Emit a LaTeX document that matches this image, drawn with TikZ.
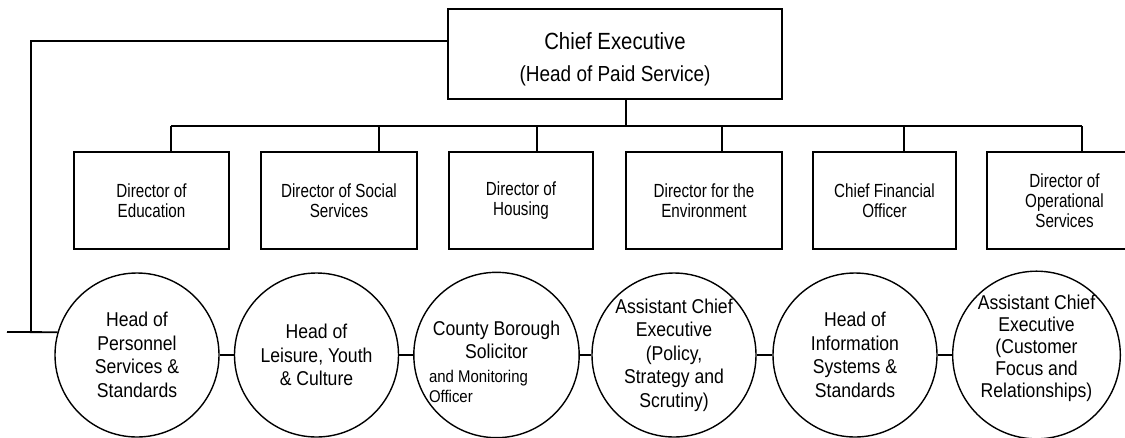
\documentclass[tikz,border=0pt]{standalone}
\usepackage{fontspec}
\setmainfont{Liberation Sans}
\newfontfamily\narrowfont[FakeStretch=0.8]{Liberation Sans}
\newfontfamily\headfont[FakeStretch=0.88]{Liberation Sans}
\newfontfamily\cefont[FakeStretch=0.87]{Liberation Sans}
\usepackage{tikz}

\begin{document}
\begin{tikzpicture}[x=1pt,y=-1pt]
    \newcommand\dropline[2]{\coordinate (b#1) at (#2,126); \draw[wire] (b#1) -- (d#1.north -| b#1);}
    \tikzstyle{wire}=[line width=1.8pt]
    \tikzstyle{chief}=[rectangle,draw,line width=1.8pt,inner sep=0pt,align=center,
                       minimum width=334pt,minimum height=90pt,
                       font={\cefont\fontsize{23.4}{32}\selectfont}]
    \tikzstyle{dir}=[rectangle,draw,line width=1.8pt,inner sep=0pt,align=center,
                     minimum height=97pt,font={\narrowfont\fontsize{19}{20}\selectfont}]
    \tikzstyle{head}=[circle,draw,line width=1.4pt,inner sep=0pt,align=center,
                      minimum size=164pt,font={\headfont\fontsize{20}{23.5}\selectfont}]
    \path[use as bounding box] (0,0) rectangle (1125,437);
    \clip (0,0) rectangle (1125,437);
    \node[chief] at (615,54) (ce) {\rule{0pt}{27pt}Chief Executive\\{\fontsize{21.8}{32}\selectfont (Head of Paid Service)}};
    % directors
    \node[dir,minimum width=155pt] at (151.5,200.5) (d1) {Director of\\Education};
    \node[dir,minimum width=156pt] at (339,200.5)   (d2) {Director of Social\\Services};
    \node[dir,minimum width=144pt] at (521,200.5)   (d3) {Director of\\Housing};
    \node[dir,minimum width=156pt] at (704,200.5)   (d4) {Director for the\\Environment};
    \node[dir,minimum width=143pt] at (884.5,200.5) (d5) {Chief Financial\\Officer};
    \node[dir,minimum width=155pt] at (1064.5,200.5) (d6) {Director of\\Operational\\Services};
    % heads
    \node[head] at (137,355)    (h1) {Head of\\Personnel\\Services \&\\Standards};
    \node[head] at (316.5,355)  (h2) {Head of\\Leisure, Youth\\\& Culture};
    \node[head] at (496.5,355)  (h3) {\rule{0pt}{28pt}County Borough\\Solicitor\\
        {\fontsize{17}{20}\selectfont\makebox[135pt][l]{and Monitoring}}\\[-3pt]
        {\fontsize{17}{20}\selectfont\makebox[135pt][l]{Officer}}};
    \node[head] at (674,355)    (h4) {Assistant Chief\\Executive\\(Policy,\\Strategy and\\Scrutiny)};
    \node[head] at (855,355)    (h5) {Head of\\Information\\Systems \&\\Standards};
    \node[head,font={\headfont\fontsize{20}{22}\selectfont}] at (1036.5,355) (h6)
        {Assistant Chief\\Executive\\(Customer\\Focus and\\Relationships)\rule[-18pt]{0pt}{0pt}};
    % bus to the directors
    \coordinate (bc) at (626,126);
    \draw[wire] (ce.south -| bc) -- (bc);
    \dropline{1}{171}\dropline{2}{379}\dropline{3}{537} % descentes
    \dropline{4}{722}\dropline{5}{904}\dropline{6}{1082} % descentes
    \draw[wire] (b1) -- (b6);
    % side line to the heads
    \coordinate (k1) at (31,41);
    \coordinate (k2) at (31,332);
    \coordinate (k0) at (7,332);
    \draw[wire] (ce.west |- k1) -- (k1) -- (k2);
    \draw[wire] (k0) -- (h1.164);
    \draw[wire] (h1.east) -- (h2.west) (h2.east) -- (h3.west) (h3.east) -- (h4.west);
    \draw[wire] (h4.east) -- (h5.west) (h5.east) -- (h6.west);
\end{tikzpicture}
\end{document}
